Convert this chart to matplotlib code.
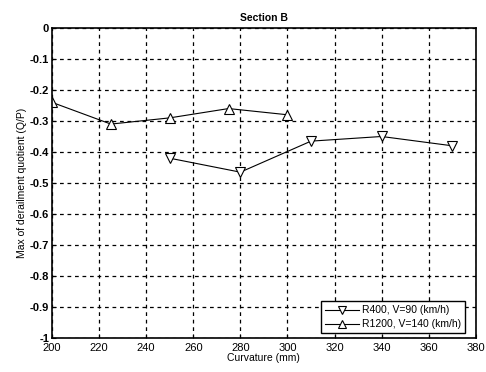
import numpy as np
from matplotlib import pyplot as plt

plt.rcParams['font.family'] = ['Liberation Sans', 'DejaVu Sans']

r400_x = [250, 280, 310, 340, 370]
r400_y = [-0.42, -0.465, -0.365, -0.35, -0.38]
r1200_x = [200, 225, 250, 275, 300]
r1200_y = [-0.24, -0.31, -0.29, -0.26, -0.28]

fig = plt.figure(figsize=(4.86, 3.72), dpi=100)
ax = fig.add_axes([0.107, 0.091, 0.872, 0.834])

ax.plot(r400_x, r400_y, 'k-', lw=0.8, marker='v', ms=6.5, mfc='white', mec='k', mew=0.8,
        label='R400, V=90 (km/h)')
ax.plot(r1200_x, r1200_y, 'k-', lw=0.8, marker='^', ms=6.5, mfc='white', mec='k', mew=0.8,
        label='R1200, V=140 (km/h)')

ax.set_xlim(200, 380)
ax.set_ylim(-1, 0)
ax.set_xticks(np.arange(200, 381, 20))
ax.set_yticks(np.round(np.arange(-1, 0.01, 0.1), 1))
ax.set_yticklabels(['-1', '-0.9', '-0.8', '-0.7', '-0.6', '-0.5', '-0.4', '-0.3', '-0.2', '-0.1', '0'])
ax.grid(True, color='k', ls=(0, (3, 3)), lw=0.9)
ax.tick_params(labelsize=8, direction='in', length=3, pad=2)
ax.tick_params(axis='x', pad=3.5)
for lbl in ax.get_yticklabels():
    lbl.set_fontweight('bold')
for s in ax.spines.values():
    s.set_linewidth(1.2)

ax.set_title('Section B', fontsize=7.5, fontweight='bold', pad=5)
ax.set_xlabel('Curvature (mm)', fontsize=7.5, labelpad=0)
ax.set_ylabel('Max of derailment quotient (Q/P)', fontsize=7.5, labelpad=2)

leg = ax.legend(loc='lower right', bbox_to_anchor=(0.975, 0.015), fontsize=7.5,
                fancybox=False, edgecolor='k', framealpha=1, borderaxespad=0,
                handlelength=3.2, borderpad=0.4, labelspacing=0.4, handletextpad=0.3,
                markerscale=0.8)
leg.get_frame().set_linewidth(1.0)

fig.savefig('out.png', dpi=100)
